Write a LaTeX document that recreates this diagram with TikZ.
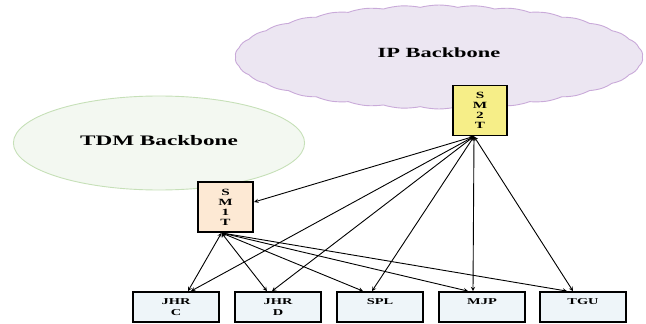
\documentclass[tikz,border=0pt]{standalone}
\usepackage{fontspec}
\setmainfont{Liberation Serif}
\usepackage{tikz}
\usetikzlibrary{shapes.geometric, shapes.symbols, arrows}
\definecolor{ipfill}{HTML}{ECE6F2}
\definecolor{ipline}{HTML}{C9AAD9}
\definecolor{tdmfill}{HTML}{F3F8F1}
\definecolor{tdmline}{HTML}{C6E0B8}
\definecolor{smonefill}{HTML}{FDE9D4}
\definecolor{smtwofill}{HTML}{F6EE88}
\definecolor{stationfill}{HTML}{EEF5F9}
\tikzstyle{ipnet} = [cloud, cloud puffs=34, cloud puff arc=45, cloud ignores aspect, minimum width=255pt, minimum height=104pt, inner sep=0pt, draw=ipline, fill=ipfill, line width=0.9pt, xscale=1.6, font=\fontsize{14}{16}\selectfont\bfseries]
\tikzstyle{tdmnet} = [ellipse, minimum width=182pt, minimum height=94pt, inner sep=0pt, draw=tdmline, fill=tdmfill, line width=0.9pt, xscale=1.6, font=\fontsize{14.5}{17}\selectfont\bfseries]
\tikzstyle{switch} = [rectangle, minimum width=34pt, minimum height=50pt, inner sep=1pt, text centered, align=center, draw=black, line width=1.8pt, xscale=1.6, font=\fontsize{9.5}{10}\selectfont\bfseries]
\tikzstyle{station} = [rectangle, minimum width=54pt, minimum height=30pt, inner sep=1pt, text centered, align=center, draw=black, line width=1.8pt, fill=stationfill, xscale=1.6, font=\fontsize{9}{11}\selectfont\bfseries]
\tikzstyle{arrow} = [line width=0.9pt,<->,>=stealth]

\begin{document}
\begin{tikzpicture}[x=1pt, y=-1pt]
	\useasboundingbox (0,0) rectangle (646,324);

	\node (IP) [ipnet] at (439,57) {\raisebox{8pt}{IP Backbone}};
	\node (TDM) [tdmnet] at (159,143) {\raisebox{5pt}{TDM Backbone}};

	\node (SM2) [switch, fill=smtwofill] at (480,110.5) {S\\M\\2\\T};
	\node (SM1) [switch, fill=smonefill] at (225.5,207) {S\\M\\1\\T};

	\node (S1) [station] at (176,307) {JHR\\C};
	\node (S2) [station] at (278,307) {JHR\\D};
	\node (S3) [station] at (380,307) {SPL\\~};
	\node (S4) [station] at (482,307) {MJP\\~};
	\node (S5) [station] at (583,307) {TGU\\~};

				\draw [arrow] ([xshift=-6pt]SM2.south)--([yshift=5pt]SM1.east);
				\draw [arrow] ([xshift=-6pt]SM2.south)--([xshift=15pt]S1.north);
				\draw [arrow] ([xshift=-6pt]SM2.south)--([xshift=-6pt]S2.north);
				\draw [arrow] ([xshift=-6pt]SM2.south)--([xshift=-8pt]S3.north);
				\draw [arrow] ([xshift=-6pt]SM2.south)--([xshift=-9pt]S4.north);
				\draw [arrow] ([xshift=-6pt]SM2.south)--([xshift=-10pt]S5.north);

				\draw [arrow] ([xshift=-4pt]SM1.south)--([xshift=12pt]S1.north);
				\draw [arrow] ([xshift=-4pt]SM1.south)--([xshift=-11pt]S2.north);
				\draw [arrow] ([xshift=-4pt]SM1.south)--([xshift=-17pt]S3.north);
				\draw [arrow] ([xshift=-4pt]SM1.south)--([xshift=-14pt]S4.north);
				\draw [arrow] ([xshift=-4pt]SM1.south)--([xshift=-16pt]S5.north);
\end{tikzpicture}
\end{document}
